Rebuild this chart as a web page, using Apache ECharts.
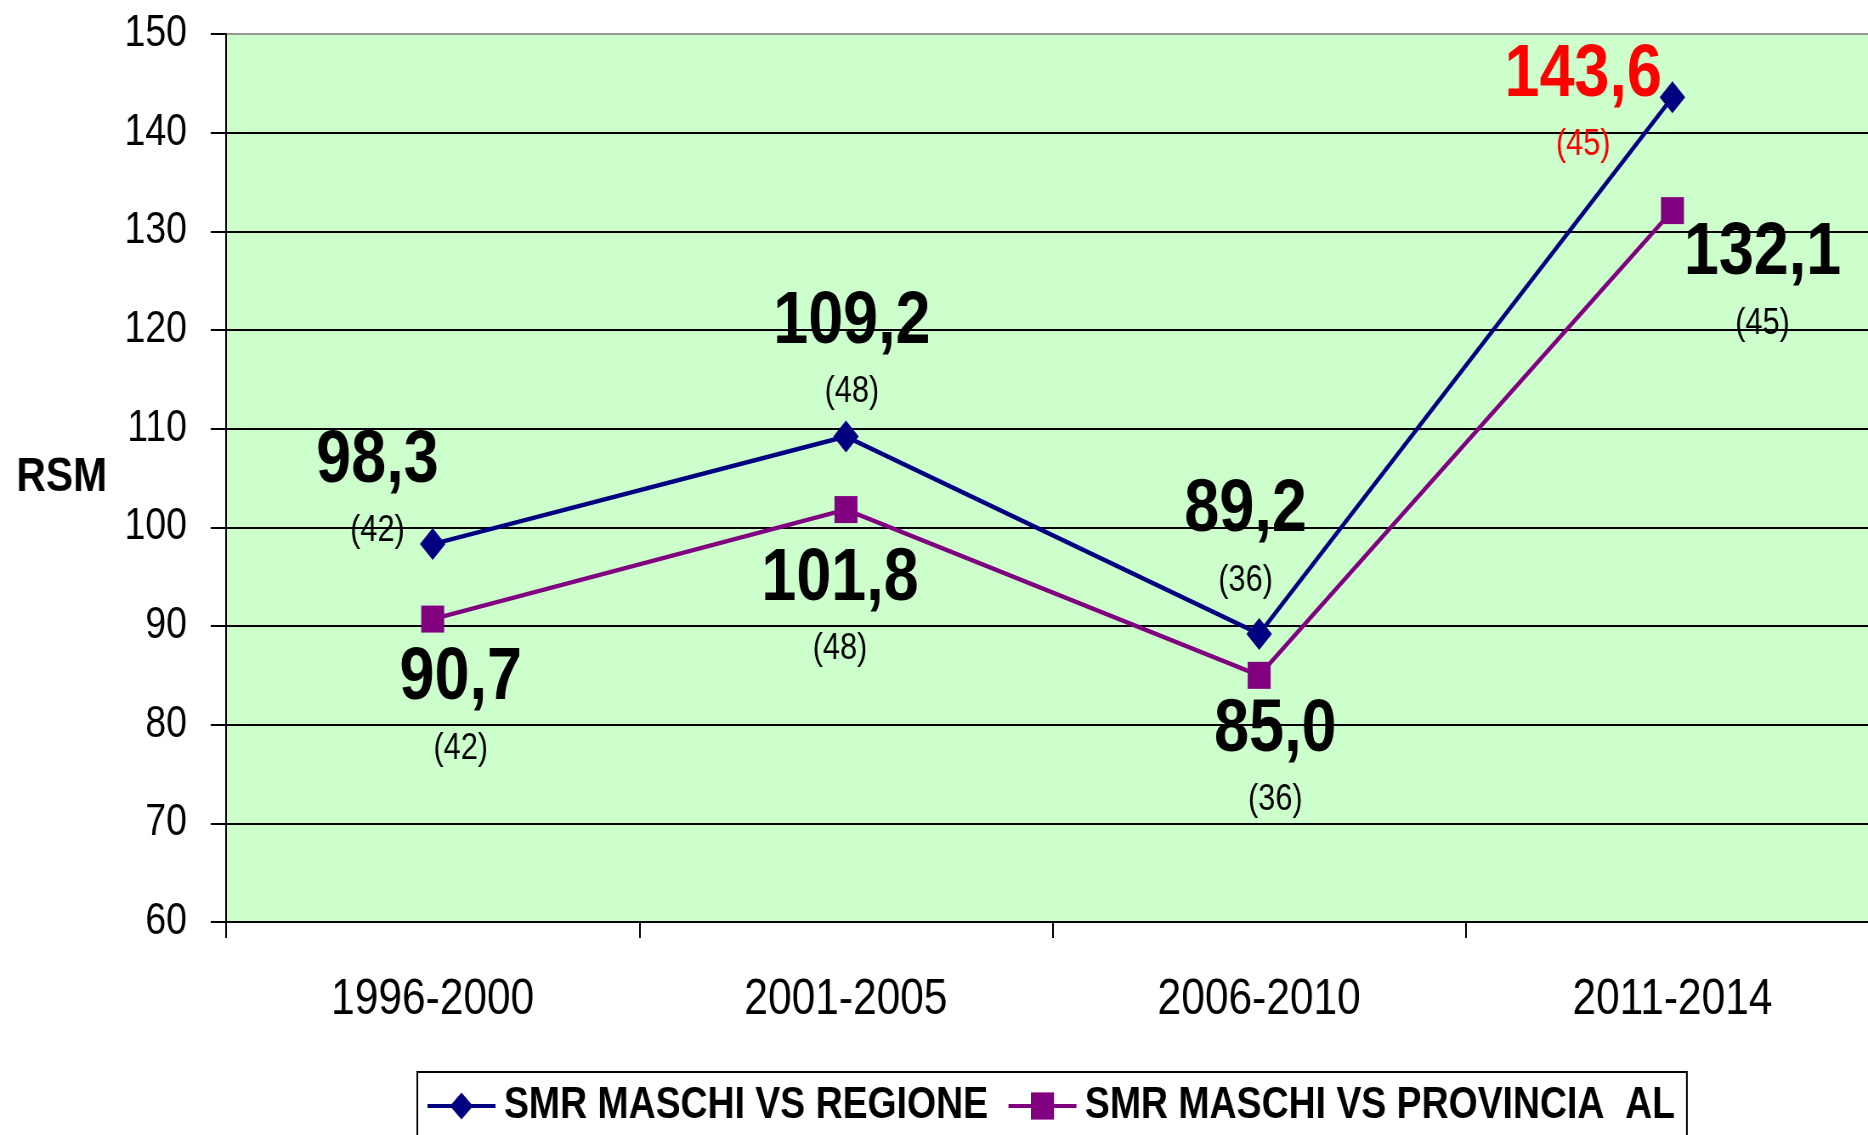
<!DOCTYPE html>
<html>
<head>
<meta charset="utf-8">
<script src="https://cdn.jsdelivr.net/npm/echarts@6/dist/echarts.min.js"></script>
<style>
html,body{margin:0;padding:0;background:#fff;overflow:hidden;width:1868px;height:1135px;}
#c{width:2198px;height:1135px;transform:scaleX(0.84986);transform-origin:0 0;}
</style>
</head>
<body>
<div id="c"></div>
<script>
const categories = ['1996-2000', '2001-2005', '2006-2010', '2011-2014'];
const smrRegione = [98.3, 109.2, 89.2, 143.6];
const smrProvincia = [90.7, 101.8, 85.0, 132.1];
const casiRegione = [42, 48, 36, 45];
const casiProvincia = [42, 48, 36, 45];
const seriesNames = ['SMR MASCHI VS REGIONE', 'SMR MASCHI VS PROVINCIA  AL'];
const yMin = 60, yMax = 150, yStep = 10;
const highlightRegioneIndex = 3;

// layout only: label offsets (px, in the unscaled drawing space) relative to each marker
const offRegione = [[-65, -48], [7, -79], [-16, -88], [-105, 13]];
const offProvincia = [[33, 95], [-7, 105], [19, 90], [106, 78]];

const SANS = "'Liberation Sans', Arial, sans-serif";

function fmt(v) { return v.toFixed(1).replace('.', ','); }

const rich = {
  a: { fontFamily: SANS, fontWeight: 'bold', fontSize: 74, color: '#000', lineHeight: 70, align: 'center' },
  b: { fontFamily: SANS, fontSize: 36, color: '#000', lineHeight: 70, align: 'center' },
  ar: { fontFamily: SANS, fontWeight: 'bold', fontSize: 74, color: '#ff0000', lineHeight: 70, align: 'center' },
  br: { fontFamily: SANS, fontSize: 36, color: '#ff0000', lineHeight: 70, align: 'center' }
};

function buildData(values, offsets) {
  return values.map((v, i) => ({ value: v, label: { offset: offsets[i] } }));
}

const chart = echarts.init(document.getElementById('c'), null, { renderer: 'canvas', width: 2198, height: 1135 });
chart.setOption({
  animation: false,
  backgroundColor: '#ffffff',
  grid: {
    left: 266, right: -13, top: 34, bottom: 213,
    outerBoundsMode: 'none',
    containLabel: false,
    show: true, backgroundColor: '#CCFFCC', borderWidth: 0
  },
  legend: {
    left: 491, top: 1072,
    orient: 'horizontal',
    backgroundColor: '#ffffff',
    borderColor: '#000', borderWidth: 2,
    padding: [12, 14, 30, 10],
    itemWidth: 80, itemHeight: 34, itemGap: 22,
    lineStyle: { width: 4 },
    textStyle: { fontFamily: SANS, fontWeight: 'bold', fontSize: 44, color: '#000', padding: [0, 0, 0, 5] },
    data: seriesNames
  },
  xAxis: {
    type: 'category',
    data: categories,
    boundaryGap: true,
    axisLine: { show: true, lineStyle: { color: '#000', width: 2 } },
    axisTick: { show: true, inside: false, length: 16, alignWithLabel: false, lineStyle: { color: '#000', width: 2 } },
    axisLabel: { margin: 53, fontFamily: SANS, fontSize: 50, color: '#000' },
    splitLine: { show: false }
  },
  yAxis: {
    type: 'value',
    min: yMin, max: yMax, interval: yStep,
    name: 'RSM',
    nameLocation: 'middle',
    nameRotate: 0,
    nameGap: 140,
    nameTextStyle: { fontFamily: SANS, fontWeight: 'bold', fontSize: 48, color: '#000', padding: [14, 0, 0, 0] },
    axisLine: { show: true, lineStyle: { color: '#000', width: 2 } },
    axisTick: { show: true, length: 18, lineStyle: { color: '#000', width: 2 } },
    axisLabel: { margin: 46, fontFamily: SANS, fontSize: 44, color: '#000' },
    splitLine: { show: true, lineStyle: { color: ['#000','#000','#000','#000','#000','#000','#000','#000','#000','#999'], width: 2 } }
  },
  series: [
    {
      name: seriesNames[0],
      type: 'line',
      data: buildData(smrRegione, offRegione),
      symbol: 'diamond',
      symbolSize: [30, 32],
      z: 3,
      lineStyle: { color: '#000080', width: 4.5 },
      itemStyle: { color: '#000080' },
      label: {
        show: true, position: 'inside', align: 'center', verticalAlign: 'middle',
        rich: rich,
        formatter: p => {
          const red = p.dataIndex === highlightRegioneIndex;
          return '{' + (red ? 'ar' : 'a') + '|' + fmt(p.value) + '}\n{' + (red ? 'br' : 'b') + '|(' + casiRegione[p.dataIndex] + ')}';
        }
      }
    },
    {
      name: seriesNames[1],
      type: 'line',
      data: buildData(smrProvincia, offProvincia),
      symbol: 'rect',
      symbolSize: [27, 27],
      z: 2,
      lineStyle: { color: '#800080', width: 4.5 },
      itemStyle: { color: '#800080' },
      label: {
        show: true, position: 'inside', align: 'center', verticalAlign: 'middle',
        rich: rich,
        formatter: p => '{a|' + fmt(p.value) + '}\n{b|(' + casiProvincia[p.dataIndex] + ')}'
      }
    }
  ]
});
</script>
</body>
</html>
